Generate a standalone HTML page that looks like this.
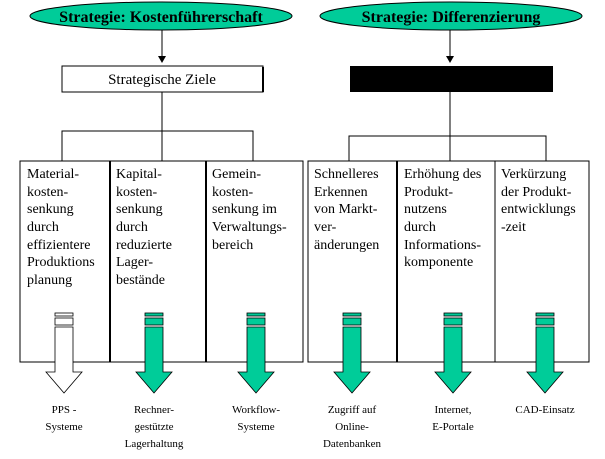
<!DOCTYPE html>
<html><head><meta charset="utf-8"><style>
body{margin:0;background:#fff;}
svg text{font-family:"Liberation Serif",serif;}
</style></head><body>
<svg width="605" height="454" viewBox="0 0 605 454" xmlns="http://www.w3.org/2000/svg">
<defs>
<g id="arr">
<rect x="-9" y="313" width="18" height="3" stroke="#000" stroke-width="0.8"/>
<rect x="-9" y="318" width="18" height="7" stroke="#000" stroke-width="0.8"/>
<path d="M-9 327 H9 V372 H18 L0 393 L-18 372 H-9 Z" stroke="#000" stroke-width="0.8"/>
</g>
</defs>
<ellipse cx="161" cy="16" rx="131" ry="14" fill="#00cc99" stroke="#000" stroke-width="1"/>
<text x="161" y="22" font-size="16" font-weight="bold" text-anchor="middle">Strategie: Kostenführerschaft</text>
<ellipse cx="451" cy="16" rx="131" ry="14" fill="#00cc99" stroke="#000" stroke-width="1"/>
<text x="451" y="22" font-size="16" font-weight="bold" text-anchor="middle">Strategie: Differenzierung</text>
<g stroke="#000" stroke-width="1" fill="none">
<line x1="162" y1="30" x2="162" y2="56"/>
<line x1="450" y1="30" x2="450" y2="56"/>
<rect x="62" y="66" width="201" height="26"/>
<line x1="162" y1="92" x2="162" y2="161"/>
<polyline points="62,161 62,131 253,131 253,161"/>
<line x1="450" y1="92" x2="450" y2="161"/>
<polyline points="349,161 349,136 546,136 546,161"/>
<rect x="20" y="161" width="283" height="201"/>
<rect x="308" y="161" width="281" height="201"/>
<line x1="110" y1="161" x2="110" y2="362" stroke-width="2"/>
<line x1="206" y1="161" x2="206" y2="362" stroke-width="2"/>
<line x1="397" y1="161" x2="397" y2="362" stroke-width="2"/>
<line x1="495" y1="161" x2="495" y2="362"/>
</g>
<polygon points="158,56 166,56 162,63" fill="#000"/>
<polygon points="446,56 454,56 450,63" fill="#000"/>
<line x1="263" y1="67" x2="263" y2="92" stroke="#000" stroke-width="2"/>
<text x="162" y="84" font-size="15" text-anchor="middle">Strategische Ziele</text>
<rect x="350" y="66" width="203" height="26" fill="#000"/>
<g font-size="14">
<text x="27" y="178">Material-</text><text x="27" y="196">kosten-</text><text x="27" y="213">senkung</text><text x="27" y="231">durch</text><text x="27" y="249">effizientere</text><text x="27" y="266">Produktions</text><text x="27" y="284">planung</text>
<text x="116" y="178">Kapital-</text><text x="116" y="196">kosten-</text><text x="116" y="213">senkung</text><text x="116" y="231">durch</text><text x="116" y="249">reduzierte</text><text x="116" y="266">Lager-</text><text x="116" y="284">bestände</text>
<text x="212" y="178">Gemein-</text><text x="212" y="196">kosten-</text><text x="212" y="213">senkung im</text><text x="212" y="231">Verwaltungs-</text><text x="212" y="249">bereich</text>
<text x="314" y="178">Schnelleres</text><text x="314" y="196">Erkennen</text><text x="314" y="213">von Markt-</text><text x="314" y="231">ver-</text><text x="314" y="249">änderungen</text>
<text x="404" y="178">Erhöhung des</text><text x="404" y="196">Produkt-</text><text x="404" y="213">nutzens</text><text x="404" y="231">durch</text><text x="404" y="249">Informations-</text><text x="404" y="266">komponente</text>
<text x="501" y="178">Verkürzung</text><text x="501" y="196">der Produkt-</text><text x="501" y="213">entwicklungs</text><text x="501" y="231">-zeit</text>
</g>
<use href="#arr" x="64" fill="#fff"/>
<use href="#arr" x="154" fill="#00cc99"/>
<use href="#arr" x="256" fill="#00cc99"/>
<use href="#arr" x="352" fill="#00cc99"/>
<use href="#arr" x="453" fill="#00cc99"/>
<use href="#arr" x="545" fill="#00cc99"/>
<g font-size="11" text-anchor="middle">
<text x="64" y="413">PPS -</text><text x="64" y="430">Systeme</text>
<text x="154" y="413">Rechner-</text><text x="154" y="430">gestützte</text><text x="154" y="447">Lagerhaltung</text>
<text x="256" y="413">Workflow-</text><text x="256" y="430">Systeme</text>
<text x="352" y="413">Zugriff auf</text><text x="352" y="430">Online-</text><text x="352" y="447">Datenbanken</text>
<text x="453" y="413">Internet,</text><text x="453" y="430">E-Portale</text>
<text x="545" y="413">CAD-Einsatz</text>
</g>
</svg>
</body></html>
